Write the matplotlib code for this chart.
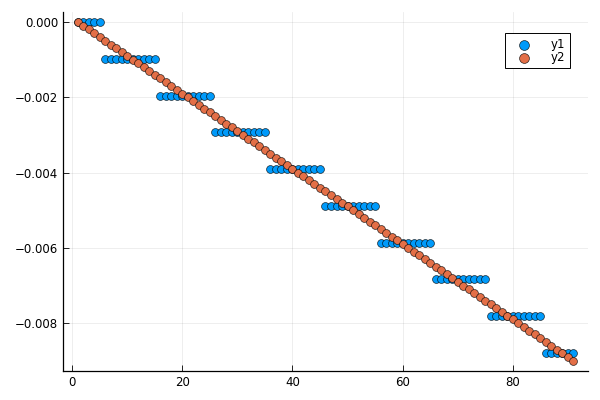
import matplotlib
matplotlib.use("Agg")
import matplotlib.pyplot as plt
from matplotlib.ticker import FuncFormatter

x = [1, 2, 3, 4, 5, 6, 7, 8, 9, 10,
     11, 12, 13, 14, 15, 16, 17, 18, 19, 20,
     21, 22, 23, 24, 25, 26, 27, 28, 29, 30,
     31, 32, 33, 34, 35, 36, 37, 38, 39, 40,
     41, 42, 43, 44, 45, 46, 47, 48, 49, 50,
     51, 52, 53, 54, 55, 56, 57, 58, 59, 60,
     61, 62, 63, 64, 65, 66, 67, 68, 69, 70,
     71, 72, 73, 74, 75, 76, 77, 78, 79, 80,
     81, 82, 83, 84, 85, 86, 87, 88, 89, 90,
     91]

y1 = [0.0, 0.0, 0.0, 0.0, 0.0,
      -0.000977, -0.000977, -0.000977, -0.000977, -0.000977,
      -0.000977, -0.000977, -0.000977, -0.000977, -0.000977,
      -0.001953, -0.001953, -0.001953, -0.001953, -0.001953,
      -0.001953, -0.001953, -0.001953, -0.001953, -0.001953,
      -0.002930, -0.002930, -0.002930, -0.002930, -0.002930,
      -0.002930, -0.002930, -0.002930, -0.002930, -0.002930,
      -0.003906, -0.003906, -0.003906, -0.003906, -0.003906,
      -0.003906, -0.003906, -0.003906, -0.003906, -0.003906,
      -0.004883, -0.004883, -0.004883, -0.004883, -0.004883,
      -0.004883, -0.004883, -0.004883, -0.004883, -0.004883,
      -0.005859, -0.005859, -0.005859, -0.005859, -0.005859,
      -0.005859, -0.005859, -0.005859, -0.005859, -0.005859,
      -0.006836, -0.006836, -0.006836, -0.006836, -0.006836,
      -0.006836, -0.006836, -0.006836, -0.006836, -0.006836,
      -0.007813, -0.007813, -0.007813, -0.007813, -0.007813,
      -0.007813, -0.007813, -0.007813, -0.007813, -0.007813,
      -0.008789, -0.008789, -0.008789, -0.008789, -0.008789,
      -0.008789]

y2 = [0.0, -0.0001, -0.0002, -0.0003, -0.0004, -0.0005, -0.0006, -0.0007, -0.0008, -0.0009,
      -0.0010, -0.0011, -0.0012, -0.0013, -0.0014, -0.0015, -0.0016, -0.0017, -0.0018, -0.0019,
      -0.0020, -0.0021, -0.0022, -0.0023, -0.0024, -0.0025, -0.0026, -0.0027, -0.0028, -0.0029,
      -0.0030, -0.0031, -0.0032, -0.0033, -0.0034, -0.0035, -0.0036, -0.0037, -0.0038, -0.0039,
      -0.0040, -0.0041, -0.0042, -0.0043, -0.0044, -0.0045, -0.0046, -0.0047, -0.0048, -0.0049,
      -0.0050, -0.0051, -0.0052, -0.0053, -0.0054, -0.0055, -0.0056, -0.0057, -0.0058, -0.0059,
      -0.0060, -0.0061, -0.0062, -0.0063, -0.0064, -0.0065, -0.0066, -0.0067, -0.0068, -0.0069,
      -0.0070, -0.0071, -0.0072, -0.0073, -0.0074, -0.0075, -0.0076, -0.0077, -0.0078, -0.0079,
      -0.0080, -0.0081, -0.0082, -0.0083, -0.0084, -0.0085, -0.0086, -0.0087, -0.0088, -0.0089,
      -0.0090]

labels = ["y1", "y2"]
xticks = [0, 20, 40, 60, 80]
yticks = [0.0, -0.002, -0.004, -0.006, -0.008]

plt.rcParams['font.family'] = ['DejaVu Sans']
fig = plt.figure(figsize=(6, 4), dpi=100)
ax = fig.add_axes([0.105, 0.0725, 0.875, 0.898])

ms = 32
ax.scatter(x, y1, s=ms, c="#009AFA", edgecolors=(0, 0, 0, 0.8), linewidths=0.5, label=labels[0], zorder=3)
ax.scatter(x, y2, s=ms, c="#E36F47", edgecolors=(0, 0, 0, 0.8), linewidths=0.5, label=labels[1], zorder=4)

xmin, xmax = min(x), max(x)
dx = (xmax - xmin) * 0.03
ax.set_xlim(xmin - dx, xmax + dx)
ymin, ymax = min(min(y1), min(y2)), max(max(y1), max(y2))
dy = (ymax - ymin) * 0.03
ax.set_ylim(ymin - dy, ymax + dy)

ax.set_xticks(xticks)
ax.set_yticks(yticks)
ax.yaxis.set_major_formatter(FuncFormatter(lambda v, p: f"{v:.3f}".replace("-", "\u2212") if abs(v) > 1e-12 else "0.000"))
for s in ["top", "right"]:
    ax.spines[s].set_visible(False)
for s in ["left", "bottom"]:
    ax.spines[s].set_linewidth(0.9)
ax.tick_params(direction="in", length=4, width=0.6, labelsize=8.5, color="black", labelcolor="black")
ax.grid(True, color="#000000", alpha=0.08, linewidth=0.6)
ax.set_axisbelow(True)

leg = ax.legend(loc="upper right", bbox_to_anchor=(0.966, 0.941), borderaxespad=0, fontsize=8.5,
                frameon=True, fancybox=False, edgecolor="black", framealpha=1,
                handletextpad=1.1, borderpad=0.4, labelspacing=0.0, handlelength=2.4,
                markerscale=1.25)
leg.get_frame().set_linewidth(0.7)

fig.savefig("out.png", dpi=100)
